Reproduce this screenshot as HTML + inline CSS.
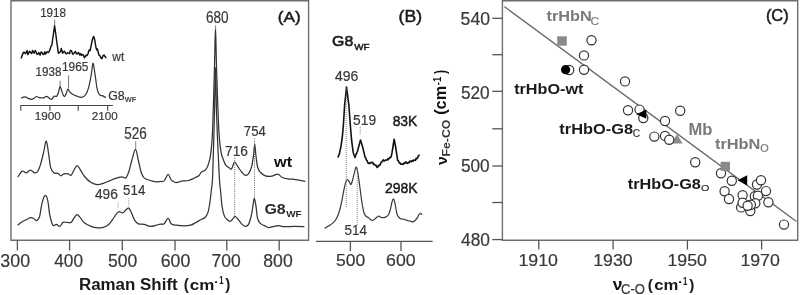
<!DOCTYPE html>
<html><head><meta charset="utf-8"><style>
html,body{margin:0;padding:0;background:#fff;width:800px;height:295px;overflow:hidden}
svg{display:block;filter:blur(0.45px)}
text{font-family:"Liberation Sans", sans-serif;}
</style></head><body>
<svg width="800" height="295" viewBox="0 0 800 295">
<rect width="800" height="295" fill="#fff"/>
<path d="M11,240.3 L11,0.8 L308.6,0.8 L308.6,240.3 Z" fill="none" stroke="#6e6e6e" stroke-width="1.4"/>
<line x1="17.4" y1="240" x2="17.4" y2="250.5" stroke="#555" stroke-width="1.3"/>
<line x1="69.6" y1="240" x2="69.6" y2="250.5" stroke="#555" stroke-width="1.3"/>
<line x1="122.3" y1="240" x2="122.3" y2="250.5" stroke="#555" stroke-width="1.3"/>
<line x1="175" y1="240" x2="175" y2="250.5" stroke="#555" stroke-width="1.3"/>
<line x1="226.8" y1="240" x2="226.8" y2="250.5" stroke="#555" stroke-width="1.3"/>
<line x1="279.2" y1="240" x2="279.2" y2="250.5" stroke="#555" stroke-width="1.3"/>
<line x1="20.3" y1="105.5" x2="112.9" y2="105.5" stroke="#444" stroke-width="1.2"/>
<line x1="20.8" y1="105.5" x2="20.8" y2="110.8" stroke="#444" stroke-width="1.1"/>
<line x1="49.9" y1="105.5" x2="49.9" y2="110.8" stroke="#444" stroke-width="1.1"/>
<line x1="78.2" y1="105.5" x2="78.2" y2="110.8" stroke="#444" stroke-width="1.1"/>
<line x1="107.7" y1="105.5" x2="107.7" y2="110.8" stroke="#444" stroke-width="1.1"/>
<path d="M21.1,58.6 L22.5,54.6 L23.5,52.2 L24.5,52.5 L25.5,53.7 L26.5,51.8 L27.2,50.6 L27.9,54.6 L28.6,53.2 L29.6,51.3 L30.6,52.5 L31.6,53.4 L32.6,50.5 L34.0,53.2 L35.3,50.5 L36.0,51.8 L36.7,53.9 L37.7,54.3 L38.7,52.5 L40.1,55.2 L41.1,51.9 L42.1,52.5 L43.1,54.6 L44.1,53.9 L44.8,51.8 L45.5,54.0 L46.2,53.2 L47.2,51.7 L48.2,52.5 L49.2,51.6 L50.2,49.1 L51.0,46.0 L51.8,45.5 L52.5,40.5 L53.2,35.5 L54.6,25.8 L55.9,35.0 L57.2,45.0 L58.4,53.2 L59.7,52.5 L60.5,51.8 L61.3,48.5 L62.0,50.9 L62.7,53.2 L63.6,51.8 L64.5,51.2 L65.5,53.3 L66.5,53.9 L67.5,52.7 L68.4,53.2 L69.4,53.7 L70.4,50.5 L71.5,50.6 L72.5,53.9 L73.5,53.9 L74.5,52.5 L75.5,51.5 L76.5,53.9 L77.5,53.8 L78.6,52.5 L79.9,55.2 L80.8,53.6 L81.7,55.4 L82.6,54.6 L83.5,54.9 L84.4,57.7 L85.3,56.6 L86.2,55.0 L87.1,55.5 L88.0,53.9 L89.0,50.2 L90.1,50.5 L91.4,44.4 L92.5,39.0 L93.7,36.3 L94.8,40.3 L95.9,47.1 L96.7,49.9 L97.5,49.1 L98.2,52.2 L98.9,55.2 L99.9,55.7 L100.9,57.9 L101.9,58.8 L102.9,55.9 L104.0,55.0 L105.0,56.6 L106.3,57.9" fill="none" stroke="#111" stroke-width="1.45" stroke-linejoin="round" stroke-linejoin="round"/>
<path d="M21.1,97.9 C21.8,97.7 24.0,96.7 25.2,96.8 C26.4,96.9 27.2,98.0 28.2,98.4 C29.2,98.8 30.4,99.4 31.3,99.4 C32.2,99.4 33.0,99.1 33.8,98.6 C34.6,98.1 35.4,96.7 36.3,96.5 C37.2,96.3 38.2,97.4 39.4,97.6 C40.6,97.8 42.3,98.1 43.5,97.9 C44.7,97.7 45.6,96.3 46.5,96.3 C47.4,96.3 48.2,97.4 49.0,97.9 C49.8,98.4 50.5,99.7 51.4,99.4 C52.2,99.1 53.2,96.8 54.1,96.3 C55.0,95.8 56.0,96.8 56.7,96.3 C57.4,95.8 57.7,94.9 58.2,93.3 C58.8,91.7 59.5,87.2 60.0,86.7 C60.5,86.2 61.0,88.8 61.5,90.2 C62.0,91.6 62.8,94.3 63.3,95.3 C63.8,96.3 64.3,96.6 64.8,96.3 C65.3,96.0 65.8,94.5 66.3,93.3 C66.8,92.1 67.2,89.5 67.8,89.2 C68.4,89.0 68.8,90.9 69.7,91.8 C70.6,92.7 71.8,93.8 73.1,94.6 C74.3,95.3 75.8,95.8 77.2,96.3 C78.6,96.8 80.1,97.4 81.3,97.3 C82.5,97.2 83.6,96.9 84.6,95.9 C85.6,94.9 86.6,93.1 87.4,91.2 C88.2,89.3 88.8,87.1 89.4,84.4 C90.0,81.7 90.7,78.1 91.2,74.9 C91.7,71.7 92.2,67.3 92.5,65.4 C92.8,63.5 92.9,63.0 93.2,63.4 C93.5,63.8 93.7,65.7 94.1,68.1 C94.5,70.5 95.0,74.4 95.5,77.6 C96.0,80.8 96.3,84.6 96.8,87.1 C97.2,89.6 97.6,91.2 98.2,92.5 C98.8,93.8 99.4,94.6 100.2,95.2 C101.0,95.8 102.1,95.6 102.9,95.9 C103.7,96.2 104.5,97.2 105.0,97.3 C105.5,97.4 105.6,96.7 105.7,96.6" fill="none" stroke="#333" stroke-width="1.2"/>
<line x1="54.7" y1="19.6" x2="54.7" y2="25" stroke="#666" stroke-width="0.9"/>
<line x1="60.1" y1="80.7" x2="60.1" y2="86" stroke="#666" stroke-width="0.9"/>
<line x1="68.6" y1="75.3" x2="68.6" y2="88.5" stroke="#666" stroke-width="0.9"/>
<path d="M17.7,177.2 C18.4,176.2 20.8,171.8 22.2,171.1 C23.6,170.4 24.9,173.0 26.3,172.8 C27.7,172.6 29.0,170.1 30.4,170.1 C31.8,170.1 33.2,172.5 34.4,172.8 C35.6,173.1 36.5,173.1 37.5,171.7 C38.5,170.3 39.5,167.8 40.5,164.6 C41.5,161.4 42.6,156.3 43.6,152.4 C44.6,148.5 45.4,140.9 46.3,141.2 C47.1,141.5 48.0,150.0 48.7,154.4 C49.4,158.8 49.9,164.6 50.7,167.7 C51.6,170.8 52.6,171.9 53.8,172.8 C55.0,173.8 56.7,172.9 57.9,173.4 C59.1,173.9 59.9,175.7 60.9,175.8 C61.9,175.9 62.8,174.1 64.0,173.8 C65.2,173.5 66.8,173.6 68.0,173.8 C69.2,174.0 70.1,175.9 71.1,175.2 C72.1,174.5 73.2,171.3 74.2,169.7 C75.2,168.1 76.2,165.6 77.2,165.6 C78.2,165.6 79.1,167.9 80.3,169.7 C81.5,171.5 82.7,174.4 84.5,176.5 C86.3,178.6 89.0,181.2 91.1,182.5 C93.2,183.8 95.2,184.4 97.2,184.6 C99.2,184.8 101.3,184.0 103.3,183.4 C105.3,182.8 107.4,181.8 109.4,180.9 C111.4,180.1 113.5,179.0 115.5,178.3 C117.5,177.6 120.0,176.9 121.7,176.8 C123.4,176.7 124.5,178.7 125.7,177.9 C126.9,177.1 127.8,174.7 128.8,171.8 C129.8,168.9 130.7,164.2 131.8,160.5 C132.9,156.8 134.4,149.3 135.5,149.3 C136.6,149.3 137.5,156.8 138.4,160.5 C139.3,164.2 140.1,168.9 141.0,171.8 C141.9,174.7 142.6,176.5 144.1,177.9 C145.6,179.3 148.2,179.8 150.2,180.5 C152.2,181.2 154.6,181.7 156.3,181.9 C158.0,182.1 158.9,181.7 160.2,181.5 C161.5,181.3 162.8,182.1 164.1,180.9 C165.4,179.7 166.9,174.6 168.1,174.4 C169.3,174.2 170.0,178.6 171.2,179.9 C172.4,181.2 174.0,182.2 175.3,182.5 C176.7,182.8 178.1,182.2 179.3,181.9 C180.5,181.6 180.9,181.1 182.4,180.9 C183.9,180.7 186.8,180.8 188.5,180.5 C190.2,180.2 191.4,179.4 192.6,178.9 C193.8,178.4 194.6,177.8 195.6,177.3 C196.6,176.8 197.7,176.7 198.7,175.8 C199.7,174.9 200.6,172.8 201.8,171.8 C203.0,170.8 204.6,171.2 205.8,169.7 C207.0,168.2 208.1,165.5 208.9,162.6 C209.8,159.7 210.3,157.8 210.9,152.4 C211.5,147.0 212.0,143.7 212.6,130.0 C213.2,116.3 213.9,87.0 214.4,70.0 C214.9,53.0 215.1,28.0 215.5,28.0 C215.9,28.0 216.0,53.0 216.6,70.0 C217.2,87.0 218.1,116.3 218.8,130.0 C219.6,143.7 220.3,147.2 221.1,152.2 C221.9,157.2 222.6,157.6 223.4,159.8 C224.2,162.0 224.8,163.9 225.7,165.2 C226.6,166.5 227.7,166.9 228.7,167.5 C229.7,168.1 230.5,169.9 231.5,169.0 C232.5,168.1 233.4,162.5 234.5,162.1 C235.6,161.7 236.7,165.0 237.9,166.7 C239.1,168.3 240.4,170.6 241.7,172.0 C243.0,173.4 244.3,175.1 245.5,175.4 C246.7,175.7 247.6,175.1 248.6,173.6 C249.6,172.1 250.8,169.8 251.6,166.7 C252.4,163.6 253.0,159.1 253.5,155.3 C254.0,151.6 254.3,144.2 254.7,144.2 C255.1,144.2 255.4,151.4 255.9,155.3 C256.4,159.2 256.9,164.6 257.7,167.5 C258.5,170.4 259.5,171.4 260.8,172.8 C262.1,174.2 263.6,175.3 265.4,175.9 C267.2,176.5 269.6,176.5 271.7,176.2 C273.8,175.9 276.1,174.0 277.8,174.2 C279.5,174.4 280.1,176.4 281.8,177.2 C283.5,178.0 285.9,178.5 288.0,178.8 C290.1,179.2 292.1,179.1 294.1,179.3 C296.1,179.6 298.3,180.0 300.2,180.3 C302.1,180.6 304.4,181.1 305.3,181.3" fill="none" stroke="#333" stroke-width="1.25"/>
<path d="M17.7,225.2 C18.4,224.6 20.8,222.7 22.2,221.8 C23.6,220.9 24.9,220.4 26.3,219.7 C27.7,219.0 29.2,217.9 30.4,217.7 C31.6,217.5 32.4,217.8 33.4,218.3 C34.4,218.8 35.5,221.0 36.5,220.7 C37.5,220.4 38.5,219.8 39.5,216.7 C40.5,213.6 41.2,206.0 42.2,202.4 C43.2,198.8 44.3,195.6 45.2,195.3 C46.1,195.0 47.0,197.2 47.7,200.4 C48.5,203.6 48.9,210.5 49.7,214.6 C50.6,218.7 51.7,223.6 52.8,225.2 C53.9,226.8 55.2,224.2 56.4,224.4 C57.6,224.6 58.8,226.7 59.9,226.4 C61.0,226.1 61.8,223.1 63.0,222.4 C64.2,221.7 65.7,222.4 67.0,222.4 C68.3,222.4 69.9,223.2 71.1,222.4 C72.3,221.6 73.2,219.0 74.2,217.7 C75.2,216.4 76.2,214.6 77.2,214.6 C78.2,214.6 79.1,216.3 80.3,217.7 C81.5,219.1 82.5,221.4 84.3,222.8 C86.1,224.2 88.9,225.6 91.1,226.4 C93.2,227.2 95.2,227.8 97.2,227.9 C99.2,228.1 101.4,227.8 103.3,227.3 C105.2,226.8 106.9,226.1 108.4,224.8 C109.9,223.5 111.1,221.6 112.5,219.7 C113.9,217.8 115.5,214.9 116.6,213.6 C117.7,212.2 118.2,211.7 119.2,211.6 C120.2,211.5 121.6,213.2 122.7,213.0 C123.8,212.8 124.7,210.9 125.7,210.1 C126.7,209.3 127.8,207.5 128.8,208.1 C129.8,208.7 130.8,211.5 131.8,213.6 C132.8,215.7 133.8,219.0 134.9,220.7 C136.0,222.4 136.9,223.2 138.4,223.8 C139.9,224.4 142.1,224.0 144.1,224.4 C146.1,224.8 148.2,226.3 150.2,226.4 C152.2,226.5 154.6,225.6 156.3,225.2 C158.0,224.8 159.2,224.4 160.5,224.2 C161.8,224.0 162.8,224.8 164.1,223.8 C165.4,222.8 166.9,218.3 168.1,218.3 C169.3,218.3 169.8,222.7 171.2,223.8 C172.6,225.0 174.1,224.9 176.3,225.2 C178.5,225.5 182.0,225.8 184.4,225.8 C186.8,225.8 188.6,225.7 190.5,225.2 C192.4,224.7 193.9,223.7 195.6,222.8 C197.3,221.9 199.2,220.5 200.7,219.7 C202.2,218.8 203.6,218.9 204.8,217.7 C206.0,216.5 207.1,215.1 207.9,212.6 C208.8,210.1 209.3,206.1 209.9,202.4 C210.5,198.7 210.8,194.8 211.3,190.2 C211.8,185.6 212.2,187.5 212.7,175.0 C213.2,162.5 213.9,132.9 214.4,115.0 C214.9,97.1 215.1,67.5 215.5,67.5 C215.9,67.5 216.0,97.1 216.6,115.0 C217.2,132.9 218.5,162.1 219.2,175.0 C219.9,187.9 220.2,186.9 220.7,192.2 C221.2,197.4 221.5,202.6 222.1,206.5 C222.7,210.4 223.3,213.4 224.2,215.6 C225.0,217.8 226.2,218.8 227.2,219.7 C228.2,220.6 229.3,221.5 230.3,221.3 C231.3,221.1 232.5,219.1 233.3,218.3 C234.1,217.5 234.4,216.3 235.2,216.5 C236.0,216.7 237.0,218.2 238.2,219.5 C239.4,220.8 241.1,223.5 242.3,224.6 C243.5,225.7 244.4,226.3 245.4,226.3 C246.4,226.3 247.5,226.2 248.4,224.6 C249.3,223.0 250.3,219.6 251.1,216.5 C251.8,213.4 252.4,209.4 252.9,206.3 C253.4,203.2 253.8,198.1 254.3,198.1 C254.8,198.1 255.4,202.9 256.0,206.3 C256.6,209.7 256.8,215.6 257.6,218.5 C258.4,221.4 259.2,222.3 260.6,223.6 C262.0,224.9 264.3,225.6 265.7,226.3 C267.1,227.0 267.4,227.7 268.8,227.7 C270.2,227.7 272.2,226.7 273.9,226.3 C275.6,226.0 277.3,225.5 279.0,225.6 C280.7,225.7 281.6,226.6 284.1,226.7 C286.6,226.8 290.8,226.3 294.2,226.3 C297.6,226.3 302.7,226.6 304.4,226.7" fill="none" stroke="#333" stroke-width="1.25"/>
<line x1="215.6" y1="25.2" x2="215.6" y2="29.8" stroke="#777" stroke-width="0.9"/>
<line x1="135.7" y1="141.2" x2="135.7" y2="149" stroke="#777" stroke-width="0.9"/>
<line x1="234.7" y1="158" x2="234.7" y2="216" stroke="#666" stroke-width="1" stroke-dasharray="1,1.2"/>
<line x1="254.5" y1="138.5" x2="254.5" y2="198" stroke="#666" stroke-width="1" stroke-dasharray="1,1.2"/>
<line x1="118" y1="202.4" x2="118" y2="208.5" stroke="#888" stroke-width="0.9" stroke-dasharray="1,1"/>
<line x1="128.8" y1="197.9" x2="128.8" y2="206.5" stroke="#888" stroke-width="0.9" stroke-dasharray="1,1"/>
<line x1="316" y1="241.4" x2="432.7" y2="241.4" stroke="#555" stroke-width="1.4"/>
<line x1="350.4" y1="241.4" x2="350.4" y2="251" stroke="#555" stroke-width="1.3"/>
<line x1="401" y1="241.4" x2="401" y2="251" stroke="#555" stroke-width="1.3"/>
<path d="M337.9,157.5 L338.6,155.5 L339.3,154.4 L340.1,150.4 L341.0,146.3 L342.4,136.1 L343.4,125.0 L344.6,105.4 L345.6,96.2 L346.5,87.0 L347.3,93.1 L348.1,99.3 L348.9,105.4 L349.6,115.2 L350.3,125.0 L351.6,140.2 L352.4,146.3 L353.2,152.4 L354.1,155.2 L355.0,157.5 L355.9,154.5 L356.8,153.0 L357.7,150.4 L358.4,147.8 L359.1,145.2 L359.8,142.6 L360.5,140.0 L361.3,142.5 L362.0,145.0 L362.8,147.5 L363.5,150.7 L364.3,153.8 L365.0,157.0 L365.7,157.7 L366.4,160.0 L367.1,160.6 L367.8,162.7 L368.5,163.4 L369.2,163.0 L369.9,163.5 L370.6,162.6 L371.3,162.8 L372.0,162.4 L372.8,162.6 L373.5,164.5 L374.2,164.1 L375.0,165.0 L375.7,165.8 L376.4,165.4 L377.1,167.4 L377.8,167.0 L378.7,165.4 L379.6,165.5 L380.5,164.0 L381.2,162.0 L382.0,161.9 L382.7,160.6 L383.4,159.8 L384.2,161.0 L384.9,160.6 L385.6,160.0 L386.3,160.3 L387.0,159.8 L387.7,158.9 L388.4,159.6 L389.1,158.4 L389.8,157.4 L390.6,157.6 L391.3,156.3 L392.1,152.2 L392.8,148.0 L394.1,139.2 L395.3,145.0 L396.3,151.3 L397.7,160.6 L398.4,160.8 L399.1,162.8 L399.8,162.7 L400.5,164.1 L401.2,164.3 L401.9,163.9 L402.7,164.4 L403.4,164.1 L404.1,162.9 L404.8,163.5 L405.5,162.1 L406.2,162.0 L406.9,163.3 L407.6,163.4 L408.3,162.4 L409.1,162.7 L409.8,161.1 L410.5,161.3 L411.3,161.8 L412.2,160.5 L413.0,161.2 L413.9,159.9 L414.7,160.2 L415.4,160.4 L416.1,158.2 L416.9,158.7 L417.6,157.7 L418.6,155.4 L419.7,154.9" fill="none" stroke="#111" stroke-width="1.6" stroke-linejoin="round"/>
<path d="M324.5,228.3 C325.2,227.9 327.2,226.8 328.5,226.0 C329.8,225.2 331.2,224.4 332.4,223.4 C333.6,222.4 334.5,221.4 335.5,220.0 C336.5,218.6 337.4,216.9 338.2,214.7 C339.0,212.5 339.8,209.9 340.5,207.0 C341.2,204.1 341.9,200.6 342.5,197.4 C343.1,194.2 343.7,190.6 344.3,188.0 C344.9,185.4 345.4,183.0 345.9,181.6 C346.4,180.2 346.8,180.0 347.2,179.8 C347.6,179.6 347.9,179.7 348.4,180.3 C348.9,180.9 349.6,182.5 350.0,183.2 C350.4,183.9 350.7,185.0 351.1,184.5 C351.5,184.0 352.1,181.7 352.6,180.0 C353.1,178.3 353.4,176.5 354.0,174.4 C354.6,172.3 355.4,167.8 356.0,167.2 C356.6,166.6 357.1,169.2 357.5,171.0 C357.9,172.8 358.2,175.2 358.6,178.0 C359.0,180.8 359.6,184.8 360.0,188.0 C360.4,191.2 360.8,194.3 361.2,197.4 C361.6,200.5 362.1,203.8 362.6,206.5 C363.1,209.2 363.5,211.6 364.1,213.3 C364.7,215.0 365.5,215.8 366.2,216.5 C366.9,217.2 367.7,217.1 368.4,217.6 C369.1,218.1 369.8,219.0 370.5,219.5 C371.2,220.0 371.9,220.7 372.7,220.5 C373.5,220.3 374.5,219.2 375.5,218.5 C376.5,217.8 377.5,216.4 378.5,216.2 C379.5,216.0 380.6,217.3 381.5,217.5 C382.4,217.7 383.4,217.8 384.2,217.6 C385.0,217.4 385.8,217.0 386.5,216.5 C387.2,216.0 387.8,215.9 388.5,214.7 C389.2,213.4 389.9,211.1 390.5,209.0 C391.1,206.9 391.5,203.7 392.0,202.0 C392.5,200.3 392.9,198.8 393.4,198.9 C393.9,199.0 394.4,200.8 394.8,202.5 C395.2,204.2 395.6,207.0 396.0,209.0 C396.4,211.0 396.6,213.2 397.2,214.7 C397.8,216.2 398.8,217.3 399.5,218.0 C400.2,218.7 400.7,218.8 401.5,219.0 C402.3,219.2 403.5,219.2 404.5,219.5 C405.5,219.8 406.4,220.2 407.3,220.5 C408.2,220.8 409.1,220.8 410.0,221.0 C410.9,221.2 412.1,222.1 413.0,221.9 C413.9,221.7 414.8,220.7 415.5,220.0 C416.2,219.3 416.8,218.5 417.4,217.6 C418.0,216.7 418.5,215.2 419.0,214.5 C419.5,213.8 419.8,213.4 420.2,213.3 C420.6,213.2 421.1,213.8 421.5,214.0 C421.9,214.2 422.2,214.6 422.3,214.7" fill="none" stroke="#3a3a3a" stroke-width="1.2"/>
<line x1="346.2" y1="86" x2="346.2" y2="208" stroke="#777" stroke-width="0.9" stroke-dasharray="1,1"/>
<line x1="360.2" y1="126.8" x2="360.2" y2="135" stroke="#777" stroke-width="0.9" stroke-dasharray="1,1"/>
<line x1="357.2" y1="168" x2="357.2" y2="225" stroke="#777" stroke-width="0.9" stroke-dasharray="1,1"/>
<path d="M502.4,240.2 L502.4,0.8 L797.7,0.8 L797.7,240.2 Z" fill="none" stroke="#6e6e6e" stroke-width="1.4"/>
<line x1="492.3" y1="18.3" x2="502.5" y2="18.3" stroke="#555" stroke-width="1.3"/>
<line x1="492.3" y1="54.7" x2="502.5" y2="54.7" stroke="#555" stroke-width="1.3"/>
<line x1="492.3" y1="91.3" x2="502.5" y2="91.3" stroke="#555" stroke-width="1.3"/>
<line x1="492.3" y1="128.8" x2="502.5" y2="128.8" stroke="#555" stroke-width="1.3"/>
<line x1="492.3" y1="166" x2="502.5" y2="166" stroke="#555" stroke-width="1.3"/>
<line x1="492.3" y1="202.5" x2="502.5" y2="202.5" stroke="#555" stroke-width="1.3"/>
<line x1="492.3" y1="239.6" x2="502.5" y2="239.6" stroke="#555" stroke-width="1.3"/>
<line x1="538.8" y1="240" x2="538.8" y2="249.5" stroke="#555" stroke-width="1.3"/>
<line x1="613.1" y1="240" x2="613.1" y2="249.5" stroke="#555" stroke-width="1.3"/>
<line x1="687.4" y1="240" x2="687.4" y2="249.5" stroke="#555" stroke-width="1.3"/>
<line x1="761.6" y1="240" x2="761.6" y2="249.5" stroke="#555" stroke-width="1.3"/>
<line x1="504.3" y1="6.6" x2="796.5" y2="221.5" stroke="#6a6a6a" stroke-width="1.3"/>
<polygon points="677,134.3 682.6,143.6 671.4,143.6" fill="#8a8a8a"/>
<circle cx="591.5" cy="40.2" r="4.6" fill="#fff" stroke="#333" stroke-width="1.2"/>
<circle cx="584" cy="55.4" r="4.6" fill="#fff" stroke="#333" stroke-width="1.2"/>
<circle cx="584" cy="69.7" r="4.6" fill="#fff" stroke="#333" stroke-width="1.2"/>
<circle cx="569.2" cy="70" r="4.6" fill="#fff" stroke="#333" stroke-width="1.2"/>
<circle cx="625" cy="81.4" r="4.6" fill="#fff" stroke="#333" stroke-width="1.2"/>
<circle cx="628" cy="110.3" r="4.6" fill="#fff" stroke="#333" stroke-width="1.2"/>
<circle cx="639.5" cy="109.6" r="4.6" fill="#fff" stroke="#333" stroke-width="1.2"/>
<circle cx="643.3" cy="118" r="4.6" fill="#fff" stroke="#333" stroke-width="1.2"/>
<circle cx="680.2" cy="110.8" r="4.6" fill="#fff" stroke="#333" stroke-width="1.2"/>
<circle cx="665" cy="121" r="4.6" fill="#fff" stroke="#333" stroke-width="1.2"/>
<circle cx="654.3" cy="136.6" r="4.6" fill="#fff" stroke="#333" stroke-width="1.2"/>
<circle cx="665" cy="135.9" r="4.6" fill="#fff" stroke="#333" stroke-width="1.2"/>
<circle cx="669.2" cy="139.7" r="4.6" fill="#fff" stroke="#333" stroke-width="1.2"/>
<circle cx="695.2" cy="162.2" r="4.6" fill="#fff" stroke="#333" stroke-width="1.2"/>
<circle cx="721" cy="173.2" r="4.6" fill="#fff" stroke="#333" stroke-width="1.2"/>
<circle cx="731.8" cy="180.8" r="4.6" fill="#fff" stroke="#333" stroke-width="1.2"/>
<circle cx="757" cy="184.5" r="4.6" fill="#fff" stroke="#333" stroke-width="1.2"/>
<circle cx="761" cy="180.3" r="4.6" fill="#fff" stroke="#333" stroke-width="1.2"/>
<circle cx="724.6" cy="191.2" r="4.6" fill="#fff" stroke="#333" stroke-width="1.2"/>
<circle cx="729" cy="199" r="4.6" fill="#fff" stroke="#333" stroke-width="1.2"/>
<circle cx="766" cy="191.1" r="4.6" fill="#fff" stroke="#333" stroke-width="1.2"/>
<circle cx="768.4" cy="202.3" r="4.6" fill="#fff" stroke="#333" stroke-width="1.2"/>
<circle cx="754.8" cy="196.2" r="4.6" fill="#fff" stroke="#333" stroke-width="1.2"/>
<circle cx="757.9" cy="195.7" r="4.6" fill="#fff" stroke="#333" stroke-width="1.2"/>
<circle cx="742.6" cy="195.2" r="4.6" fill="#fff" stroke="#333" stroke-width="1.2"/>
<circle cx="741.1" cy="207.4" r="4.6" fill="#fff" stroke="#333" stroke-width="1.2"/>
<circle cx="742.6" cy="202.8" r="4.6" fill="#fff" stroke="#333" stroke-width="1.2"/>
<circle cx="755.3" cy="203.3" r="4.6" fill="#fff" stroke="#333" stroke-width="1.2"/>
<circle cx="750.3" cy="211" r="4.6" fill="#fff" stroke="#333" stroke-width="1.2"/>
<circle cx="750.8" cy="204.8" r="4.6" fill="#fff" stroke="#333" stroke-width="1.2"/>
<circle cx="747.6" cy="205.8" r="4.6" fill="#fff" stroke="#333" stroke-width="1.2"/>
<circle cx="784" cy="224.6" r="4.6" fill="#fff" stroke="#333" stroke-width="1.2"/>
<circle cx="565.6" cy="69.7" r="4.6" fill="#000"/>
<polygon points="636.4,114.2 646.4,109.5 646.4,118.7" fill="#000"/>
<polygon points="737.6,180.3 747.2,175.2 747.2,185.6" fill="#000"/>
<rect x="557.2" y="36.3" width="9.6" height="9.4" fill="#8a8a8a"/>
<rect x="720.6" y="161.8" width="9.4" height="9" fill="#8a8a8a"/>
<text transform="translate(277.87,21.76) scale(1.1144,1)" font-size="15.43" font-weight="normal" fill="#1a1a1a" stroke="#1a1a1a" stroke-width="0.5">(A)</text>
<text transform="translate(40.17,16.78) scale(0.9705,1)" font-size="11.97" font-weight="normal" fill="#383838" stroke="#383838" stroke-width="0.2">1918</text>
<text transform="translate(35.57,75.97) scale(0.9166,1)" font-size="12.68" font-weight="normal" fill="#383838" stroke="#383838" stroke-width="0.2">1938</text>
<text transform="translate(61.95,71.18) scale(0.9677,1)" font-size="12.25" font-weight="normal" fill="#383838" stroke="#383838" stroke-width="0.2">1965</text>
<text transform="translate(112.30,60.67) scale(0.9448,1)" font-size="12.62" font-weight="normal" fill="#383838" stroke="#383838" stroke-width="0.2">wt</text>
<text transform="translate(108.18,99.87) scale(0.9627,1)" font-size="12.82" font-weight="normal" fill="#333" stroke="#333" stroke-width="0.2">G8</text>
<text transform="translate(124.70,101.60) scale(0.9327,1)" font-size="7.97" font-weight="bold" fill="#444">WF</text>
<text transform="translate(34.66,120.09) scale(1.0268,1)" font-size="11.41" font-weight="normal" fill="#383838" stroke="#383838" stroke-width="0.2">1900</text>
<text transform="translate(91.82,120.09) scale(1.0206,1)" font-size="11.41" font-weight="normal" fill="#383838" stroke="#383838" stroke-width="0.2">2100</text>
<text transform="translate(206.02,23.44) scale(0.8362,1)" font-size="16.20" font-weight="normal" fill="#383838" stroke="#383838" stroke-width="0.2">680</text>
<text transform="translate(124.16,138.64) scale(0.8546,1)" font-size="15.77" font-weight="normal" fill="#383838" stroke="#383838" stroke-width="0.2">526</text>
<text transform="translate(225.12,155.95) scale(0.9440,1)" font-size="14.51" font-weight="normal" fill="#383838" stroke="#383838" stroke-width="0.2">716</text>
<text transform="translate(243.84,136.05) scale(0.8933,1)" font-size="14.71" font-weight="normal" fill="#383838" stroke="#383838" stroke-width="0.2">754</text>
<text transform="translate(274.00,167.25) scale(1.0959,1)" font-size="14.85" font-weight="bold" fill="#111">wt</text>
<text transform="translate(264.46,213.75) scale(1.0487,1)" font-size="15.21" font-weight="bold" fill="#2a2a2a">G8</text>
<text transform="translate(286.20,216.60) scale(1.0386,1)" font-size="9.57" font-weight="bold" fill="#2a2a2a">WF</text>
<text transform="translate(94.92,199.15) scale(0.9124,1)" font-size="15.07" font-weight="normal" fill="#383838" stroke="#383838" stroke-width="0.2">496</text>
<text transform="translate(123.06,194.65) scale(0.8833,1)" font-size="15.14" font-weight="normal" fill="#383838" stroke="#383838" stroke-width="0.2">514</text>
<text transform="translate(0.29,266.72) scale(0.9908,1)" font-size="18.03" font-weight="normal" fill="#383838" stroke="#383838" stroke-width="0.2">300</text>
<text transform="translate(54.26,266.72) scale(0.9543,1)" font-size="18.03" font-weight="normal" fill="#383838" stroke="#383838" stroke-width="0.2">400</text>
<text transform="translate(107.90,266.72) scale(0.9768,1)" font-size="18.03" font-weight="normal" fill="#383838" stroke="#383838" stroke-width="0.2">500</text>
<text transform="translate(160.71,266.72) scale(0.9830,1)" font-size="18.03" font-weight="normal" fill="#383838" stroke="#383838" stroke-width="0.2">600</text>
<text transform="translate(211.53,266.72) scale(0.9689,1)" font-size="18.03" font-weight="normal" fill="#383838" stroke="#383838" stroke-width="0.2">700</text>
<text transform="translate(263.30,266.72) scale(0.9768,1)" font-size="18.03" font-weight="normal" fill="#383838" stroke="#383838" stroke-width="0.2">800</text>
<text transform="translate(78.91,290.24) scale(1.0623,1)" font-size="15.95" font-weight="bold" fill="#1a1a1a">Raman Shift</text>
<text transform="translate(183.63,290.03) scale(0.9022,1)" font-size="17.02" font-weight="bold" fill="#1a1a1a">(</text>
<text transform="translate(189.72,289.65) scale(1.1412,1)" font-size="14.91" font-weight="bold" fill="#1a1a1a">cm</text>
<text transform="translate(214.68,286.40) scale(0.5333,1)" font-size="15.00" font-weight="bold" fill="#1a1a1a">-</text>
<text transform="translate(219.34,284.40) scale(0.7340,1)" font-size="10.43" font-weight="bold" fill="#1a1a1a">1</text>
<text transform="translate(225.20,290.03) scale(0.9022,1)" font-size="17.02" font-weight="bold" fill="#1a1a1a">)</text>
<text transform="translate(398.54,21.98) scale(1.0815,1)" font-size="16.28" font-weight="normal" fill="#1a1a1a" stroke="#1a1a1a" stroke-width="0.5">(B)</text>
<text transform="translate(332.11,46.25) scale(1.0444,1)" font-size="15.21" font-weight="normal" fill="#1a1a1a" stroke="#1a1a1a" stroke-width="0.6">G8</text>
<text transform="translate(354.20,49.60) scale(1.0638,1)" font-size="9.28" font-weight="normal" fill="#222" stroke="#222" stroke-width="0.5">WF</text>
<text transform="translate(335.02,81.36) scale(1.0143,1)" font-size="13.80" font-weight="normal" fill="#383838" stroke="#383838" stroke-width="0.2">496</text>
<text transform="translate(353.05,124.56) scale(0.9604,1)" font-size="14.37" font-weight="normal" fill="#383838" stroke="#383838" stroke-width="0.2">519</text>
<text transform="translate(392.64,126.15) scale(0.9578,1)" font-size="14.51" font-weight="normal" fill="#1a1a1a" stroke="#1a1a1a" stroke-width="0.45">83K</text>
<text transform="translate(384.90,192.55) scale(0.9296,1)" font-size="15.07" font-weight="normal" fill="#1a1a1a" stroke="#1a1a1a" stroke-width="0.45">298K</text>
<text transform="translate(344.56,235.16) scale(0.9313,1)" font-size="14.43" font-weight="normal" fill="#383838" stroke="#383838" stroke-width="0.2">514</text>
<text transform="translate(336.10,266.43) scale(1.0296,1)" font-size="17.04" font-weight="normal" fill="#383838" stroke="#383838" stroke-width="0.2">500</text>
<text transform="translate(386.11,266.43) scale(1.0399,1)" font-size="17.04" font-weight="normal" fill="#383838" stroke="#383838" stroke-width="0.2">600</text>
<text transform="translate(765.92,20.67) scale(1.0332,1)" font-size="15.85" font-weight="normal" fill="#1a1a1a" stroke="#1a1a1a" stroke-width="0.5">(C)</text>
<text transform="translate(460.60,25.32) scale(0.9618,1)" font-size="18.31" font-weight="normal" fill="#383838" stroke="#383838" stroke-width="0.2">540</text>
<text transform="translate(460.91,98.61) scale(0.9269,1)" font-size="18.59" font-weight="normal" fill="#383838" stroke="#383838" stroke-width="0.2">520</text>
<text transform="translate(460.91,171.61) scale(0.9269,1)" font-size="18.59" font-weight="normal" fill="#383838" stroke="#383838" stroke-width="0.2">500</text>
<text transform="translate(461.05,246.02) scale(0.9688,1)" font-size="17.89" font-weight="normal" fill="#383838" stroke="#383838" stroke-width="0.2">480</text>
<text transform="translate(518.48,266.43) scale(1.0597,1)" font-size="16.76" font-weight="normal" fill="#383838" stroke="#383838" stroke-width="0.2">1910</text>
<text transform="translate(593.18,266.43) scale(1.0597,1)" font-size="16.76" font-weight="normal" fill="#383838" stroke="#383838" stroke-width="0.2">1930</text>
<text transform="translate(667.48,266.43) scale(1.0597,1)" font-size="16.76" font-weight="normal" fill="#383838" stroke="#383838" stroke-width="0.2">1950</text>
<text transform="translate(740.38,266.43) scale(1.0597,1)" font-size="16.76" font-weight="normal" fill="#383838" stroke="#383838" stroke-width="0.2">1970</text>
<text transform="translate(546.44,21.45) scale(1.1089,1)" font-size="14.73" font-weight="bold" fill="#7a7a7a">trHbN</text>
<text transform="translate(590.41,25.30) scale(1.1270,1)" font-size="10.42" font-weight="normal" fill="#7a7a7a" stroke="#7a7a7a" stroke-width="0.2">C</text>
<text transform="translate(514.14,93.85) scale(1.0814,1)" font-size="15.00" font-weight="bold" fill="#1a1a1a">trHbO-wt</text>
<text transform="translate(559.34,133.66) scale(1.1335,1)" font-size="14.46" font-weight="bold" fill="#1a1a1a">trHbO-G8</text>
<text transform="translate(632.69,136.50) scale(0.9747,1)" font-size="10.42" font-weight="normal" fill="#333" stroke="#333" stroke-width="0.2">C</text>
<text transform="translate(688.54,135.10) scale(1.0108,1)" font-size="16.44" font-weight="bold" fill="#7a7a7a">Mb</text>
<text transform="translate(714.94,148.65) scale(1.1114,1)" font-size="14.73" font-weight="bold" fill="#7a7a7a">trHbN</text>
<text transform="translate(760.26,152.19) scale(0.9906,1)" font-size="10.99" font-weight="normal" fill="#7a7a7a" stroke="#7a7a7a" stroke-width="0.2">O</text>
<text transform="translate(627.74,188.85) scale(1.1153,1)" font-size="14.59" font-weight="bold" fill="#1a1a1a">trHbO-G8</text>
<text transform="translate(701.06,191.21) scale(1.1376,1)" font-size="9.44" font-weight="normal" fill="#333" stroke="#333" stroke-width="0.2">O</text>
<text transform="translate(647.63,290.38) scale(1.0025,1)" font-size="15.32" font-weight="bold" fill="#1a1a1a">(</text>
<text transform="translate(654.13,289.65) scale(1.1212,1)" font-size="14.91" font-weight="bold" fill="#1a1a1a">cm</text>
<text transform="translate(678.76,286.23) scale(0.5929,1)" font-size="14.17" font-weight="bold" fill="#1a1a1a">-</text>
<text transform="translate(683.03,284.80) scale(0.7544,1)" font-size="10.43" font-weight="bold" fill="#1a1a1a">1</text>
<text transform="translate(689.25,290.38) scale(1.0025,1)" font-size="15.32" font-weight="bold" fill="#1a1a1a">)</text>
<text transform="translate(620.95,294.46) scale(0.9183,1)" font-size="14.23" font-weight="normal" fill="#383838" stroke="#383838" stroke-width="0.2">C-O</text>
<text transform="translate(612.70,290.40) scale(1.0392,1)" font-size="16.79" font-weight="bold" fill="#111">&#957;</text>
<g transform="rotate(-90)">
<text transform="translate(-165.10,447.00) scale(1.0265,1)" font-size="15.47" font-weight="bold" fill="#111">&#957;</text>
<text transform="translate(-156.46,449.58) scale(1.0636,1)" font-size="11.55" font-weight="bold" fill="#333">Fe-CO</text>
<text transform="translate(-114.81,446.27) scale(0.9690,1)" font-size="16.81" font-weight="bold" fill="#111">(cm</text>
<text transform="translate(-85.17,441.20) scale(0.7895,1)" font-size="11.74" font-weight="bold" fill="#111">-1</text>
<text transform="translate(-74.10,446.27) scale(0.7437,1)" font-size="16.81" font-weight="bold" fill="#111">)</text>
</g>
</svg>
</body></html>
